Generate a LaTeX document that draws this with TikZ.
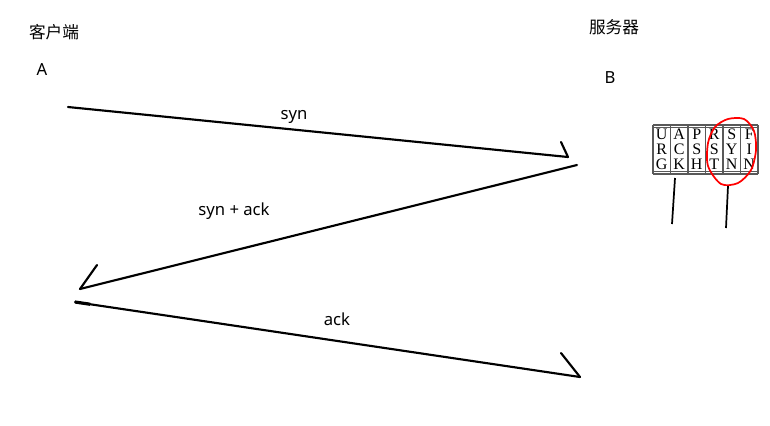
\documentclass[tikz,border=0pt]{standalone}
\usepackage{fontspec}
\usetikzlibrary{calc}
\setmainfont{Noto Sans}
\newfontfamily\cjk{Noto Sans CJK SC}
\newfontfamily\flagfont{Liberation Serif}
\tikzset{
  hand/.style={line width=1.6pt, line cap=round},
  lbl/.style={font=\fontsize{12.5}{14}\selectfont},
  flag/.style={font=\flagfont\fontsize{12}{12}\selectfont, inner sep=0pt},
  grid/.style={draw=black!65, line width=0.8pt},
}
\begin{document}
\begin{tikzpicture}[x=0.75pt,y=-0.75pt]
\useasboundingbox (0,0) rectangle (770,425);
% hosts
\node[lbl] (client) at (54,32) {\cjk 客户端};
\node[lbl] (hostA) at (42,70) {A};
\node[lbl] (server) at (614,27) {\cjk 服务器};
\node[lbl] (hostB) at (610,78) {B};
% handshake strokes
\coordinate (s1) at (68,107);  \coordinate (e1) at (568,157); \coordinate (h1) at (561,142);
\coordinate (s2) at (577,165); \coordinate (e2) at (80,289);  \coordinate (h2) at (97,265);
\coordinate (s3) at (75,302);  \coordinate (e3) at (580,377); \coordinate (h3) at (561,353);
\draw[hand] (s1) -- (e1);
\draw[hand] (h1) -- (e1);
\draw[hand] (s2) -- (e2);
\draw[hand] (h2) -- (e2);
\draw[hand] (s3) -- (e3);
\draw[hand] (h3) -- (e3);
\draw[line width=2.4pt] (s3) -- ($(s3)!0.03!(e3)$);
\node[lbl] (syn) at (294,117) {syn};
\node[lbl] (synack) at (234,211) {syn + ack};
\node[lbl] (ack) at (337,319) {ack};
% flag field
\draw[grid] (653,125) -- (758,125) (653,127.5) -- (758,127.5);
\draw[grid] (653,171.5) -- (758,171.5) (653,174) -- (758,174);
\foreach \i in {0,...,6}
  \draw[grid] ({653+17.5*\i},125) -- ({653+17.5*\i},174);
\foreach \a/\b/\c [count=\i] in {U/R/G, A/C/K, P/S/H, R/S/T, S/Y/N, F/I/N} {
  \node[flag] (f\i a) at ({644.25+17.5*\i},134) {\a};
  \node[flag] (f\i b) at ({644.25+17.5*\i},149) {\b};
  \node[flag] (f\i c) at ({644.25+17.5*\i},164) {\c};
}
\coordinate (p1) at (675,178); \coordinate (q1) at (672,224);
\coordinate (p2) at (728,186); \coordinate (q2) at (726,228);
\draw[line width=1.3pt] (p1) -- (q1);
\draw[line width=1.3pt] (p2) -- (q2);
\draw[red, line width=1.3pt] plot[smooth cycle] coordinates
  {(708,166) (708,143) (715,127) (728,119) (744,119) (754,131) (756,150) (751,170) (738,183) (721,184)};
\end{tikzpicture}
\end{document}
